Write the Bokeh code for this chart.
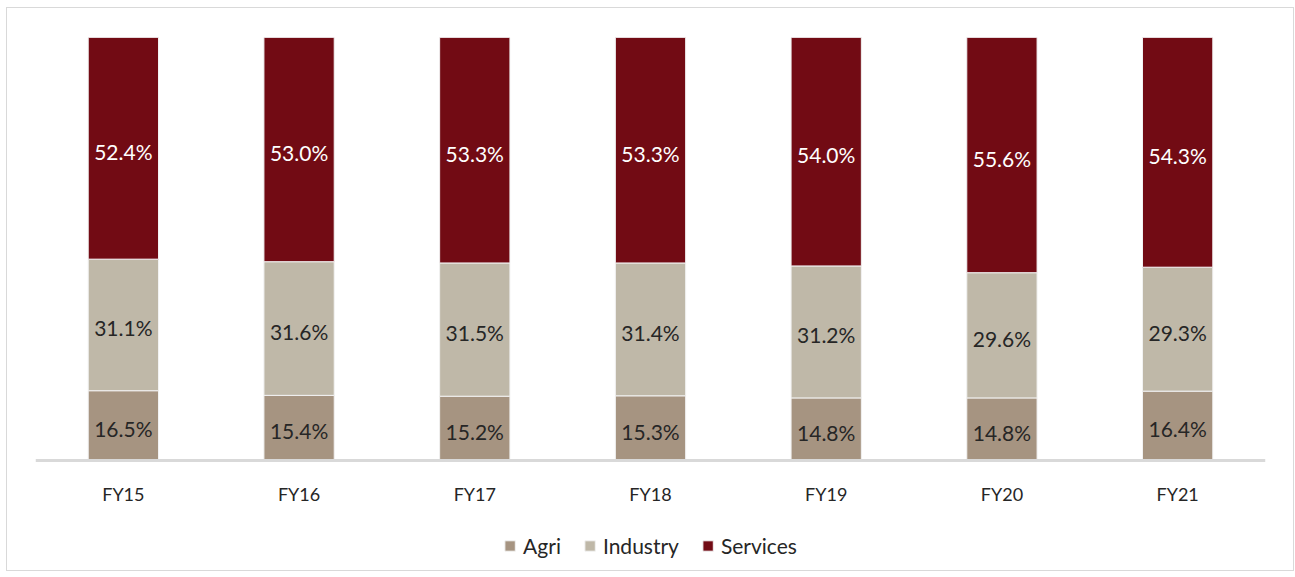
from bokeh.plotting import figure
from bokeh.models import ColumnDataSource, Legend, LegendItem, FactorRange, Span
from bokeh.core.properties import value
from bokeh.embed import file_html
from bokeh.resources import INLINE

years = ["FY15", "FY16", "FY17", "FY18", "FY19", "FY20", "FY21"]
agri = [16.5, 15.4, 15.2, 15.3, 14.8, 14.8, 16.4]
industry = [31.1, 31.6, 31.5, 31.4, 31.2, 29.6, 29.3]
services = [52.4, 53.0, 53.3, 53.3, 54.0, 55.6, 54.3]

series = ["Agri", "Industry", "Services"]
colors = ["#A69481", "#BFB8A8", "#720B14"]
label_colors = ["#262626", "#262626", "#FFFFFF"]

FONT = "Lato"

src = ColumnDataSource(dict(year=years, Agri=agri, Industry=industry, Services=services))

p = figure(x_range=FactorRange(*years, range_padding=0), y_range=(-26, 100),
           frame_width=1230, frame_height=533, output_backend="svg", toolbar_location=None,
           min_border_left=28, min_border_right=28, min_border_top=29, min_border_bottom=0)
p.styles = {"border": "1px solid #D9D9D9", "margin-left": "6px", "margin-top": "7px"}

renderers = p.vbar_stack(series, x="year", width=0.4, source=src, color=colors,
                         line_color="#F2F2F2", line_width=1)

# baseline (category axis line)
p.add_layout(Span(location=0, dimension="width", line_color="#D9D9D9", line_width=3))

# category labels
p.text(x=years, y=[0] * len(years), text=years, text_align="center", text_baseline="middle",
       text_color="#262626", text_font=value(FONT), text_font_size="18px", y_offset=33)

# data labels
bottoms = [0.0] * len(years)
for name, vals, lc in zip(series, [agri, industry, services], label_colors):
    mids = [b + v / 2 for b, v in zip(bottoms, vals)]
    texts = ["%.1f%%" % v for v in vals]
    ls = ColumnDataSource(dict(year=years, y=mids, t=texts))
    p.text(x="year", y="y", text="t", source=ls, text_align="center",
           text_baseline="middle", text_color=lc, text_font=value(FONT),
           text_font_size="21px", y_offset=3)
    bottoms = [b + v for b, v in zip(bottoms, vals)]

p.xgrid.grid_line_color = None
p.ygrid.grid_line_color = None
p.xaxis.visible = False
p.yaxis.visible = False
p.outline_line_color = None

legend = Legend(items=[LegendItem(label=s, renderers=[r]) for s, r in zip(series, renderers)],
                orientation="horizontal", location="bottom_center",
                label_text_font=FONT, label_text_font_size="21px", label_text_color="#262626",
                glyph_width=13, glyph_height=13, label_standoff=7, spacing=22,
                padding=0, margin=12, border_line_color=None, background_fill_alpha=0)
p.add_layout(legend)

open("out.html", "w").write(file_html(p, INLINE))
